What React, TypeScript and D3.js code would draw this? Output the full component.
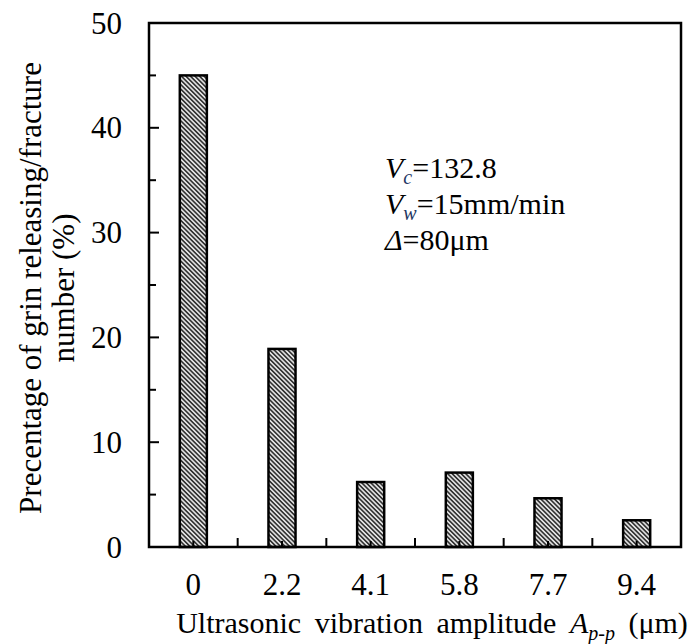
import React from "react";
import * as d3 from "d3";

const categories = ["0", "2.2", "4.1", "5.8", "7.7", "9.4"];
const values = [45, 18.9, 6.2, 7.1, 4.65, 2.55];
const yMajorTicks = [0, 10, 20, 30, 40, 50];
const yMinorTicks = [5, 15, 25, 35, 45];

const W = 690;
const H = 644;
const M = { left: 149, right: 681, top: 23, bottom: 547 };
const FONT = "Liberation Serif, Times New Roman, DejaVu Serif, serif";

export default function App() {
  const x = d3.scaleBand<string>().domain(categories).range([M.left, M.right]).paddingInner(0).paddingOuter(0);
  const y = d3.scaleLinear().domain([0, 50]).range([M.bottom, M.top]);
  const bw = x.bandwidth() * 0.305;
  const boundaries = categories.slice(1).map((c) => x(c)!);
  const ts = { fontFamily: FONT } as React.CSSProperties;

  return (
    <svg width={W} height={H} style={{ position: "absolute", left: 0, top: 0, display: "block", background: "#fff", fontFamily: FONT }}>
      <defs>
        <pattern id="hatch" patternUnits="userSpaceOnUse" width={3.2} height={3.2} patternTransform="rotate(-45)">
          <rect width={3.2} height={3.2} fill="#e0e0e0" />
          <rect width={1.6} height={3.2} fill="#333" />
        </pattern>
      </defs>

      {categories.map((c, i) => {
        const cx = x(c)! + x.bandwidth() / 2;
        return (
          <rect
            key={c}
            x={cx - bw / 2}
            y={y(values[i])}
            width={bw}
            height={y(0) - y(values[i])}
            fill="url(#hatch)"
            stroke="#000"
            strokeWidth={2.5}
          />
        );
      })}

      <rect x={M.left} y={M.top} width={M.right - M.left} height={M.bottom - M.top} fill="none" stroke="#000" strokeWidth={2.5} />

      {yMajorTicks.map((t) => (
        <g key={"ym" + t}>
          <line x1={M.left} x2={M.left + 10} y1={y(t)} y2={y(t)} stroke="#000" strokeWidth={2} />
          <text x={122} y={y(t)} dy="0.34em" textAnchor="end" style={ts} fontSize={31} fill="#000">
            {t}
          </text>
        </g>
      ))}
      {yMinorTicks.map((t) => (
        <line key={"yn" + t} x1={M.left} x2={M.left + 7} y1={y(t)} y2={y(t)} stroke="#000" strokeWidth={2} />
      ))}

      {boundaries.map((b, i) => (
        <line key={"xb" + i} x1={b} x2={b} y1={M.bottom} y2={M.bottom - 9} stroke="#000" strokeWidth={2} />
      ))}
      {categories.map((c) => {
        const cx = x(c)! + x.bandwidth() / 2;
        return (
          <g key={"xt" + c}>
            <line x1={cx} x2={cx} y1={M.bottom} y2={M.bottom - 6} stroke="#000" strokeWidth={2} />
            <text x={cx} y={595} textAnchor="middle" style={ts} fontSize={31} fill="#000">
              {c}
            </text>
          </g>
        );
      })}

      <text x={432} y={633} textAnchor="middle" style={ts} fontSize={30} wordSpacing={6} fill="#000">
        Ultrasonic vibration amplitude <tspan fontStyle="italic">A</tspan>
        <tspan fontStyle="italic" fontSize={20} dy={7}>p-p</tspan>
        <tspan dy={-7}> (μm)</tspan>
      </text>

      <g transform={`translate(41, ${(M.top + M.bottom) / 2 + 3}) rotate(-90)`}>
        <text x={0} y={0} textAnchor="middle" style={ts} fontSize={31} fill="#000">
          Precentage of grin releasing/fracture
        </text>
        <text x={0} y={33} textAnchor="middle" style={ts} fontSize={31} fill="#000">
          number (%)
        </text>
      </g>

      <text x={385} y={178} style={ts} fontSize={30} fill="#000">
        <tspan fontStyle="italic">V</tspan>
        <tspan fontStyle="italic" fontSize={20} dy={6} fill="#1f3864">c</tspan>
        <tspan dy={-6}>=132.8</tspan>
      </text>
      <text x={385} y={214} style={ts} fontSize={30} fill="#000">
        <tspan fontStyle="italic">V</tspan>
        <tspan fontStyle="italic" fontSize={20} dy={6} fill="#1f3864">w</tspan>
        <tspan dy={-6}>=15mm/min</tspan>
      </text>
      <text x={385} y={250} style={ts} fontSize={30} fill="#000">
        <tspan fontStyle="italic">Δ</tspan>
        <tspan>=80μm</tspan>
      </text>
    </svg>
  );
}
